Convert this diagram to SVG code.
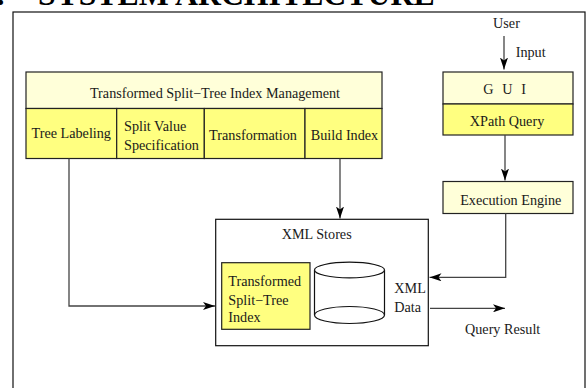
<svg xmlns="http://www.w3.org/2000/svg" width="587" height="388" viewBox="0 0 587 388">
<style>
text{font-family:"Liberation Serif","Times New Roman",serif;font-size:14.2px;fill:#1a1a1a}
.title{font-weight:bold;font-size:31.8px;fill:#000}
.hdr{fill:#ffffd9;stroke:#222;stroke-width:1.2}
.cell{fill:#ffff80;stroke:#222;stroke-width:1.2}
.box{fill:#fff;stroke:#111;stroke-width:1.2}
.conn{fill:none;stroke:#444;stroke-width:1.3}
.mid{text-anchor:middle}
</style>
<defs>
<marker id="ah" viewBox="0 0 12 8" refX="12" refY="4" markerWidth="12" markerHeight="8" markerUnits="userSpaceOnUse" orient="auto">
<path d="M0,0 L12,4 L0,8 L3,4 Z" fill="#000"/>
</marker>
</defs>
<rect width="587" height="388" fill="#fff"/>
<text class="title" y="4.5"><tspan x="-19.5">3.</tspan><tspan x="38">SYSTEM ARCHITECTURE</tspan></text>
<rect x="13" y="12" width="572" height="390" fill="none" stroke="#111" stroke-width="1.2"/>

<g id="management">
<rect class="hdr" x="26" y="72" width="356" height="36.5"/>
<text class="mid" x="215" y="97.5">Transformed Split−Tree Index Management</text>
</g>
<g id="tree-labeling">
<rect class="cell" x="26" y="108.5" width="90.7" height="50"/>
<text x="31.5" y="137.5">Tree Labeling</text>
</g>
<g id="split-value">
<rect class="cell" x="116.7" y="108.5" width="87.6" height="50"/>
<text x="124" y="131">Split Value</text>
<text x="124" y="150">Specification</text>
</g>
<g id="transformation">
<rect class="cell" x="204.3" y="108.5" width="100.7" height="50"/>
<text class="mid" x="253" y="140">Transformation</text>
</g>
<g id="build-index">
<rect class="cell" x="305" y="108.5" width="77" height="50"/>
<text class="mid" x="344.5" y="140">Build Index</text>
</g>

<g id="user">
<text class="mid" x="506.5" y="28">User</text>
</g>
<g id="gui">
<rect class="hdr" x="443" y="72" width="130" height="32"/>
<text x="483.3" y="94" letter-spacing="2.6">G U I</text>
</g>
<g id="xpath-query">
<rect class="cell" x="443" y="104" width="130" height="31"/>
<text class="mid" x="507" y="126">XPath Query</text>
</g>
<g id="execution-engine">
<rect class="hdr" x="443" y="181.5" width="130" height="32"/>
<text class="mid" x="510.8" y="205">Execution Engine</text>
</g>

<g id="xml-stores">
<rect class="box" x="215.7" y="219.3" width="212.6" height="126.4"/>
<text class="mid" x="316.7" y="238.5">XML Stores</text>
</g>
<g id="split-tree-index">
<rect class="cell" x="221.7" y="262.7" width="88.3" height="66.6"/>
<text x="228.3" y="286">Transformed</text>
<text x="228.3" y="304.5">Split−Tree</text>
<text x="228.3" y="322">Index</text>
</g>
<g id="xml-data">
<path d="M314.5,270 V315 A35,8.5 0 0 0 384.5,315 V270" fill="#fff" stroke="#111" stroke-width="1.2"/>
<ellipse cx="349.5" cy="270" rx="35" ry="7.8" fill="#fff" stroke="#111" stroke-width="1.2"/>
<path d="M314.5,315 A35,8.5 0 0 1 384.5,315" fill="none" stroke="#111" stroke-width="1.2"/>
<text x="394.3" y="292.7">XML</text>
<text x="394.3" y="311.7">Data</text>
</g>
<g id="query-result">
<text x="465" y="334">Query Result</text>
</g>

<g id="connectors">
<path class="conn" d="M504,36 V69.5" marker-end="url(#ah)"/>
<text x="515.7" y="57">Input</text>
<path class="conn" d="M505,135 V180.5" marker-end="url(#ah)"/>
<path class="conn" d="M505.7,213.5 V277.3 H429.5" marker-end="url(#ah)"/>
<path class="conn" d="M340,158.5 V218.5" marker-end="url(#ah)"/>
<path class="conn" d="M69,158.5 V306 H215" marker-end="url(#ah)"/>
<path class="conn" d="M430,308.3 H505" marker-end="url(#ah)"/>
</g>
</svg>
